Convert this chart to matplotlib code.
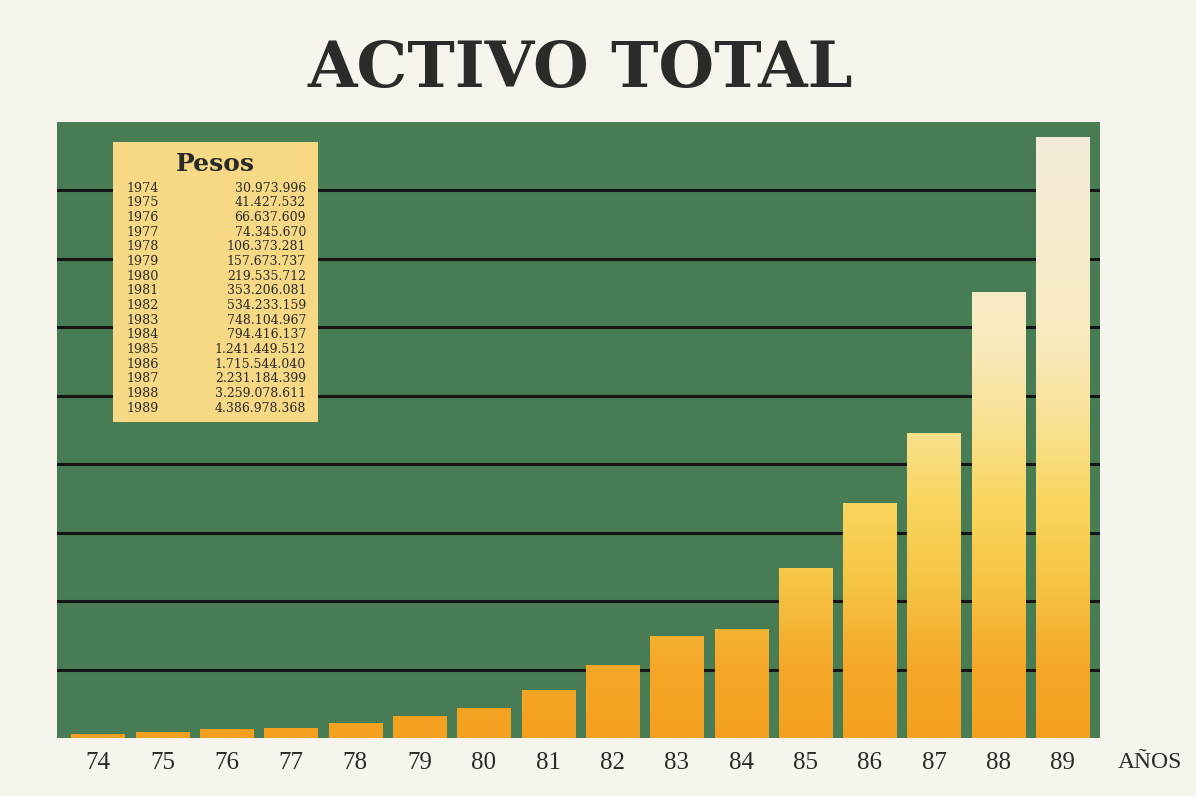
import matplotlib
matplotlib.use("Agg")
import matplotlib.pyplot as plt
import numpy as np
from matplotlib.colors import LinearSegmentedColormap
from matplotlib.patches import Rectangle

years_short = ["74", "75", "76", "77", "78", "79", "80", "81",
               "82", "83", "84", "85", "86", "87", "88", "89"]
years_full = ["1974", "1975", "1976", "1977", "1978", "1979", "1980", "1981",
              "1982", "1983", "1984", "1985", "1986", "1987", "1988", "1989"]
values = [30973996, 41427532, 66637609, 74345670, 106373281, 157673737,
          219535712, 353206081, 534233159, 748104967, 794416137,
          1241449512, 1715544040, 2231184399, 3259078611, 4386978368]
value_labels = ["30.973.996", "41.427.532", "66.637.609", "74.345.670",
                "106.373.281", "157.673.737", "219.535.712", "353.206.081",
                "534.233.159", "748.104.967", "794.416.137", "1.241.449.512",
                "1.715.544.040", "2.231.184.399", "3.259.078.611",
                "4.386.978.368"]
grid_values = [0.5e9, 1.0e9, 1.5e9, 2.0e9, 2.5e9, 3.0e9, 3.5e9, 4.0e9]

BG = "#f6f4ec"
GREEN = "#487c54"
TXT = "#2a2a2a"
W, H = 1196, 796

fig = plt.figure(figsize=(W / 100, H / 100), dpi=100, facecolor=BG)
ax = fig.add_axes([57 / W, 1 - 738 / H, (1100 - 57) / W, (738 - 122) / H])
ax.set_facecolor(GREEN)
ymax = 4.5e9
x = np.arange(len(values))

for g in grid_values:
    ax.axhline(g, color="#151515", lw=2.2, zorder=1)

cmap = LinearSegmentedColormap.from_list("bar", [
    (0.0, "#f4a01e"), (0.12, "#f5a829"), (0.25, "#f7c443"),
    (0.38, "#f9d65f"), (0.5, "#fae190"), (0.65, "#f8ebc0"),
    (1.0, "#f4ecdc")])
grad = np.linspace(0, 1, 256).reshape(-1, 1)
width = 0.83
bars = ax.bar(x, values, width=width, color="none", edgecolor="none", zorder=2)
for b in bars:
    im = ax.imshow(grad, cmap=cmap, origin="lower", aspect="auto",
                   extent=[b.get_x(), b.get_x() + b.get_width(), 0, ymax],
                   zorder=2, interpolation="bicubic")
    im.set_clip_path(b)
ax.set_xlim(-0.64, len(values) - 1 + 0.58)
ax.set_ylim(0, ymax)

for s in ax.spines.values():
    s.set_visible(False)
ax.set_yticks([])
ax.set_xticks(x)
ax.set_xticklabels(years_short, family="Liberation Serif", fontsize=18,
                   color=TXT)
ax.tick_params(axis="x", length=0, pad=10)

fig.text(1150 / W, 1 - 762 / H, "AÑOS", family="Liberation Serif",
         fontsize=17, color=TXT, ha="center", va="center")

fig.text(580 / W, 1 - 70 / H, "ACTIVO TOTAL", family="DejaVu Serif",
         fontweight="bold", fontsize=46, color="#2b2b2b",
         ha="center", va="center")

# table box
bx0, by0, bx1, by1 = 113, 142, 318, 422
fig.patches.append(Rectangle((bx0 / W, 1 - by1 / H), (bx1 - bx0) / W,
                             (by1 - by0) / H, transform=fig.transFigure,
                             facecolor="#f7d985", edgecolor="none", zorder=5))
fig.text(215 / W, 1 - 164 / H, "Pesos", family="DejaVu Serif",
         fontweight="bold", fontsize=18, color=TXT,
         ha="center", va="center", zorder=6)
for i, (yr, vl) in enumerate(zip(years_full, value_labels)):
    yy = 1 - (188 + i * 14.67) / H
    fig.text(127 / W, yy, yr, family="DejaVu Serif", fontsize=9.2,
             color=TXT, ha="left", va="center", zorder=6)
    fig.text(306 / W, yy, vl, family="DejaVu Serif", fontsize=9,
             color=TXT, ha="right", va="center", zorder=6)

fig.savefig("out.png", dpi=100, facecolor=BG)
